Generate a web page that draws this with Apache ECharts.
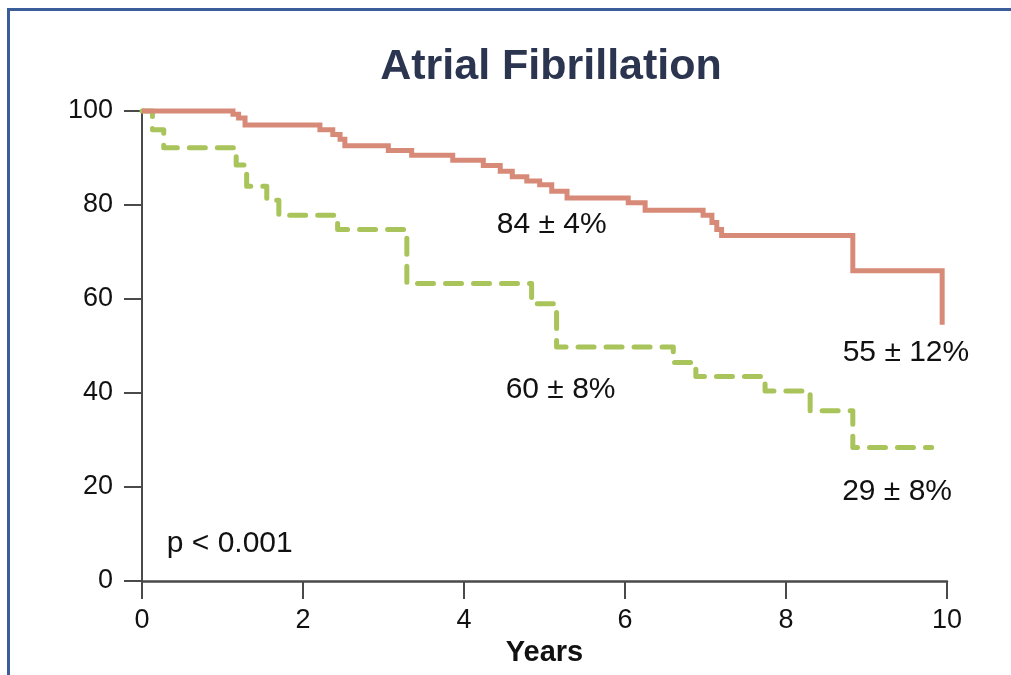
<!DOCTYPE html>
<html>
<head>
<meta charset="utf-8">
<script src="https://cdn.jsdelivr.net/npm/echarts@6/dist/echarts.min.js"></script>
<style>
html,body{margin:0;padding:0;background:#fff;overflow:hidden;}
#wrap{position:relative;width:1011px;height:675px;overflow:hidden;}
#chart{position:absolute;left:0;top:0;width:1011px;height:675px;}
#frame{position:absolute;left:7px;top:8px;width:1100px;height:800px;border-left:3px solid #3b5e9b;border-top:3px solid #3b5e9b;pointer-events:none;}
</style>
</head>
<body>
<div id="wrap"><div id="chart"></div><div id="frame"></div></div>
<script>
// Data (Kaplan-Meier steps: [years, % free])
const titleText = 'Atrial Fibrillation';
const xTicks = [0, 2, 4, 6, 8, 10];
const yTicks = [0, 20, 40, 60, 80, 100];
const redTimes  = [0, 1.13, 1.20, 1.28, 2.21, 2.37, 2.46, 2.52, 3.06, 3.35, 3.86, 4.24, 4.45, 4.60, 4.78, 4.94, 5.09, 5.28, 6.04, 6.25, 6.97, 7.08, 7.14, 7.20, 8.83, 9.94];
const redValues = [100, 99.3, 98.5, 97, 96, 95, 94, 92.6, 91.6, 90.6, 89.5, 88.4, 87.2, 86.0, 85.1, 84.3, 82.9, 81.5, 80.5, 78.9, 77.8, 76.3, 74.8, 73.5, 66, 54.5];
const greenTimes  = [0, 0.13, 0.27, 1.17, 1.30, 1.55, 1.70, 2.43, 3.29, 4.84, 5.15, 6.60, 6.88, 7.74, 8.30, 8.83, 9.81];
const greenValues = [100, 96, 92.2, 88.5, 84, 81, 77.8, 74.8, 63.3, 59, 49.8, 46.5, 43.5, 40.4, 36.2, 28.4, 28.4];
const annotTexts = ['84 ± 4%', '55 ± 12%', '60 ± 8%', '29 ± 8%', 'p < 0.001'];
const annotX = [5.09, 9.49, 5.20, 9.38, 1.09];
const annotY = [75.8, 48.5, 40.7, 18.9, 8.0];

const FONT = '"Liberation Sans", Arial, Helvetica, sans-serif';
const chart = echarts.init(document.getElementById('chart'), null, {renderer: 'canvas', width: 1011, height: 675});
const zip = (a, b) => a.map((v, i) => [v, b[i]]);

chart.setOption({
  backgroundColor: '#ffffff',
  animation: false,
  title: {
    text: titleText,
    left: 546, top: 41, textAlign: 'center',
    textStyle: {fontFamily: FONT, fontSize: 43, fontWeight: 'bold', color: '#2b3550'}
  },
  grid: {left: 142, right: 64, top: 111, bottom: 94, containLabel: false, outerBoundsMode: 'none'},
  xAxis: {
    type: 'value', min: xTicks[0], max: xTicks[xTicks.length - 1], interval: 2,
    name: 'Years', nameLocation: 'middle', nameGap: 48,
    nameTextStyle: {fontFamily: FONT, fontSize: 29, fontWeight: 'bold', color: '#111111'},
    axisLine: {show: true, onZero: false, lineStyle: {color: '#4a4a4a', width: 2.5}},
    axisTick: {show: true, length: 18, lineStyle: {color: '#4a4a4a', width: 2}},
    axisLabel: {margin: 26, fontFamily: FONT, fontSize: 27, color: '#111111'},
    splitLine: {show: false}
  },
  yAxis: {
    type: 'value', min: yTicks[0], max: yTicks[yTicks.length - 1], interval: 20,
    axisLine: {show: true, onZero: false, lineStyle: {color: '#4a4a4a', width: 2}},
    axisTick: {show: true, length: 18, lineStyle: {color: '#4a4a4a', width: 2}},
    axisLabel: {margin: 29, fontFamily: FONT, fontSize: 27, color: '#111111'},
    splitLine: {show: false}
  },
  series: [
    {
      type: 'line', step: 'end', data: zip(redTimes, redValues),
      showSymbol: false, symbol: 'none', clip: false,
      lineStyle: {color: '#d88a78', width: 5, cap: 'butt', join: 'miter'}, z: 3
    },
    {
      type: 'line', step: 'end', data: zip(greenTimes, greenValues),
      showSymbol: false, symbol: 'none', clip: false,
      lineStyle: {color: '#a9c45a', width: 5, type: [16, 12], cap: 'round', join: 'round'}, z: 2
    }
  ]
});

// Annotation texts placed through the chart's own coordinate system
const annots = annotTexts.map((t, i) => {
  const p = chart.convertToPixel({gridIndex: 0}, [annotX[i], annotY[i]]);
  return {
    type: 'text', x: p[0], y: p[1], z: 10,
    style: {text: t, fontFamily: FONT, fontSize: 30, fill: '#111111', align: 'center', verticalAlign: 'middle'}
  };
});
chart.setOption({graphic: annots});
</script>
</body>
</html>
